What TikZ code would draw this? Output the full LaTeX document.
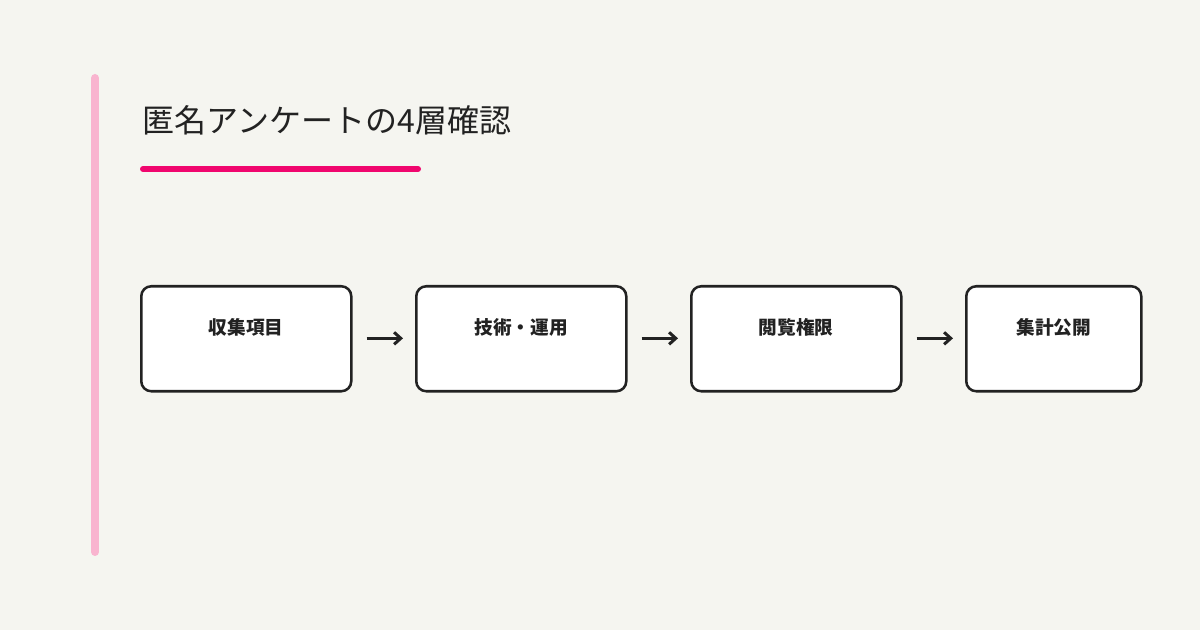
\documentclass[tikz,border=0pt]{standalone}
\usepackage{fontspec}
\setmainfont{Noto Sans CJK JP}
\newfontfamily\jpbold{Noto Sans CJK JP}[BoldFont={* Bold}]
\usetikzlibrary{positioning,arrows.meta}
\definecolor{bgcol}{HTML}{F5F5F0}
\definecolor{barpink}{HTML}{F9B4CF}
\definecolor{linemag}{HTML}{F0066E}
\definecolor{ink}{HTML}{222222}
\tikzset{
  stagebox/.style={draw=ink,line width=1.9pt,fill=white,rounded corners=7.5pt,
    minimum width=157.5pt,minimum height=78.75pt,inner sep=0pt},
  stagelabel/.style={font=\fontsize{14pt}{16pt}\selectfont\bfseries,text=ink},
  flow/.style={draw=ink,line width=2.25pt,-{Straight Barb[length=5pt,width=9pt]}}
}
\begin{document}
\begin{tikzpicture}[x=0.75pt,y=0.75pt,every node/.style={font=\jpbold}]
    %% Background
    \fill[bgcol] (0,0) rectangle (1200,630);
    \useasboundingbox (0,0) rectangle (1200,630);
    %% Side bar and title
    \draw[barpink,line width=6pt,line cap=round] (95,78) -- (95,552);
    \node[anchor=west,font=\fontsize{24pt}{28pt}\selectfont,text=ink] (title) at (138,510) {匿名アンケートの4層確認};
    \draw[linemag,line width=4.5pt,line cap=round] (143,461) -- (418,461);
    %% Stages
    \node[stagebox,anchor=north west] (s1) at (140,345) {};
    \node[stagebox,anchor=north west] (s2) at (415,345) {};
    \node[stagebox,anchor=north west] (s3) at (690,345) {};
    \node[stagebox,anchor=north west,minimum width=131.25pt] (s4) at (965,345) {};
    \node[stagelabel] (l1) at ([yshift=-32pt]s1.north) {収集項目};
    \node[stagelabel] (l2) at ([yshift=-32pt]s2.north) {技術・運用};
    \node[stagelabel] (l3) at ([yshift=-32pt]s3.north) {閲覧権限};
    \node[stagelabel] (l4) at ([yshift=-32pt]s4.north) {集計公開};
    %% Arrows
    \foreach \a/\b in {s1/s2,s2/s3,s3/s4}
      \draw[flow] ([xshift=10.5pt,yshift=-40pt]\a.north east) -- ([xshift=-9pt,yshift=-40pt]\b.north west);
\end{tikzpicture}
\end{document}
